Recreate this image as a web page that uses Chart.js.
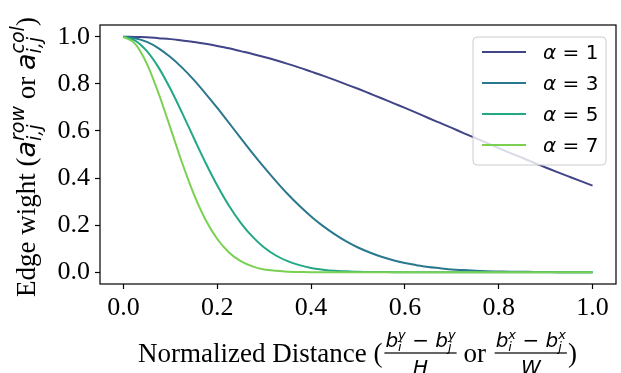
<!DOCTYPE html>
<html>
<head>
<meta charset="utf-8">
<script src="https://cdn.jsdelivr.net/npm/chart.js@4.4.0/dist/chart.umd.min.js"></script>
<style>
  html, body { margin: 0; padding: 0; background: #fff; }
  #wrap { width: 621px; height: 373px; }
</style>
</head>
<body>
<div id="wrap"><canvas id="chart" width="621" height="373"></canvas></div>
<script>
// ============================
// Data
// ============================

const distance = [0, 0.025, 0.05, 0.075, 0.1, 0.125, 0.15, 0.175, 0.2, 0.225, 0.25, 0.275, 0.3, 0.325, 0.35, 0.375, 0.4, 0.425, 0.45, 0.475, 0.5,
  0.525, 0.55, 0.575, 0.6, 0.625, 0.65, 0.675, 0.7, 0.725, 0.75, 0.775, 0.8, 0.825, 0.85, 0.875, 0.9, 0.925, 0.95, 0.975, 1.0];

const alpha1 = [1.000, 0.999, 0.998, 0.994, 0.990, 0.984, 0.978, 0.970, 0.961, 0.951, 0.939, 0.927, 0.914, 0.900, 0.885, 0.869, 0.852, 0.835, 0.817, 0.798, 0.779,
  0.759, 0.739, 0.718, 0.698, 0.677, 0.655, 0.634, 0.613, 0.591, 0.570, 0.549, 0.527, 0.506, 0.486, 0.465, 0.445, 0.425, 0.406, 0.387, 0.368];

const alpha3 = [1.000, 0.994, 0.978, 0.951, 0.914, 0.869, 0.817, 0.759, 0.698, 0.634, 0.570, 0.506, 0.445, 0.387, 0.332, 0.282, 0.237, 0.197, 0.162, 0.131, 0.105,
  0.084, 0.066, 0.051, 0.039, 0.030, 0.022, 0.017, 0.012, 0.009, 0.006, 0.004, 0.003, 0.002, 0.002, 0.001, 0.001, 0.000, 0.000, 0.000, 0.000];

const alpha5 = [1.000, 0.984, 0.939, 0.869, 0.779, 0.677, 0.570, 0.465, 0.368, 0.282, 0.210, 0.151, 0.105, 0.071, 0.047, 0.030, 0.018, 0.011, 0.006, 0.004, 0.002,
  0.001, 0.001, 0, 0, 0, 0, 0, 0, 0, 0, 0, 0, 0, 0, 0, 0, 0, 0, 0, 0];

const alpha7 = [1.000, 0.970, 0.885, 0.759, 0.613, 0.465, 0.332, 0.223, 0.141, 0.084, 0.047, 0.025, 0.012, 0.006, 0.002, 0.001, 0, 0, 0, 0, 0,
  0, 0, 0, 0, 0, 0, 0, 0, 0, 0, 0, 0, 0, 0, 0, 0, 0, 0, 0, 0];

const alphaValues = [1, 3, 5, 7];
const xTicks = [0, 0.2, 0.4, 0.6, 0.8, 1.0];
const yTicks = [0, 0.2, 0.4, 0.6, 0.8, 1.0];

// viridis-like colours
const colors = ['#414487', '#2a788e', '#22a884', '#7ad151'];

// ============================
// Helpers for math-ish text
// ============================

const SERIF = '"Liberation Serif", "Times New Roman", serif';
const SANS = '"DejaVu Sans", sans-serif';

function drawRuns(ctx, runs, x, y, measureOnly) {
  for (const r of runs) {
    ctx.font = r.font;
    if (r.sup !== undefined || r.sub !== undefined) {
      let w = 0;
      if (r.sup) {
        if (!measureOnly) ctx.fillText(r.sup, x, y - r.up);
        w = ctx.measureText(r.sup).width;
      }
      if (r.sub) {
        if (!measureOnly) ctx.fillText(r.sub, x, y + r.down);
        w = Math.max(w, ctx.measureText(r.sub).width);
      }
      x += w + (r.after || 0);
    } else {
      if (!measureOnly) ctx.fillText(r.text, x, y);
      x += ctx.measureText(r.text).width;
    }
  }
  return x;
}

function drawFraction(ctx, num, den, x, barY) {
  const wn = drawRuns(ctx, num, 0, 0, true);
  const wd = drawRuns(ctx, den, 0, 0, true);
  const w = Math.max(wn, wd) + 2;
  drawRuns(ctx, num, x + (w - wn) / 2, barY - 6);
  drawRuns(ctx, den, x + (w - wd) / 2, barY + 21);
  ctx.fillRect(x, barY - 0.6, w, 1.2);
  return x + w;
}

// ============================
// Custom drawing plugin
// ============================

const decorations = {
  id: 'decorations',
  afterDraw(chart) {
    const ctx = chart.ctx;
    const a = chart.chartArea;
    ctx.save();
    ctx.fillStyle = '#000';
    ctx.strokeStyle = '#000';
    ctx.textBaseline = 'alphabetic';
    ctx.textAlign = 'left';

    // frame
    ctx.lineWidth = 1.2;
    ctx.strokeRect(a.left, a.top, a.right - a.left, a.bottom - a.top);

    // legend
    const lx = 473, ly = 37, lw = 133, lh = 128;
    ctx.beginPath();
    ctx.roundRect(lx, ly, lw, lh, 4);
    ctx.fillStyle = 'rgba(255,255,255,0.8)';
    ctx.fill();
    ctx.strokeStyle = '#cccccc';
    ctx.lineWidth = 1;
    ctx.stroke();
    alphaValues.forEach((v, i) => {
      const cy = 52 + i * 31;
      ctx.strokeStyle = colors[i];
      ctx.lineWidth = 2;
      ctx.beginPath();
      ctx.moveTo(482, cy);
      ctx.lineTo(526, cy);
      ctx.stroke();
      ctx.fillStyle = '#000';
      drawRuns(ctx, [
        { text: 'α', font: 'italic 20px ' + SANS },
        { text: ' = ' + v, font: '20px ' + SANS }
      ], 543, cy + 7);
    });

    // x title
    ctx.fillStyle = '#000';
    const it = 'italic 20px ' + SANS;
    const sc = 'italic 13px ' + SANS;
    const up = '20px ' + SANS;
    const big = '27px ' + SERIF;
    let x = drawRuns(ctx, [{ text: 'Normalized Distance (', font: big }], 138, 362);
    x = drawFraction(ctx,
      [{ text: 'b', font: it }, { sup: 'y', sub: 'i', font: sc, up: 8, down: 4 },
       { text: ' − ', font: up }, { text: 'b', font: it }, { sup: 'y', sub: 'j', font: sc, up: 8, down: 4 }],
      [{ text: 'H', font: it }], x + 2, 353);
    x = drawRuns(ctx, [{ text: ' or ', font: big }], x, 362);
    x = drawFraction(ctx,
      [{ text: 'b', font: it }, { sup: 'x', sub: 'i', font: sc, up: 8, down: 4 },
       { text: ' − ', font: up }, { text: 'b', font: it }, { sup: 'x', sub: 'j', font: sc, up: 8, down: 4 }],
      [{ text: 'W', font: it }], x + 2, 353);
    drawRuns(ctx, [{ text: ')', font: big }], x + 1, 362);

    // y title
    ctx.translate(35, 297);
    ctx.rotate(-Math.PI / 2);
    const ai = 'italic 27px ' + SANS;
    const as = 'italic 19px ' + SANS;
    drawRuns(ctx, [
      { text: 'Edge wight (', font: big },
      { text: 'a', font: ai },
      { sup: 'row', sub: 'i,j', font: as, up: 11, down: 6 },
      { text: ' or ', font: big },
      { text: 'a', font: ai },
      { sup: 'col', sub: 'i,j', font: as, up: 11, down: 6 },
      { text: ')', font: big }
    ], 0, 0);
    ctx.restore();
  }
};

// ============================
// Chart
// ============================

function series(values) {
  return distance.map((d, i) => ({ x: d, y: values[i] }));
}

const allSeries = [alpha1, alpha3, alpha5, alpha7];

const tickFont = { family: SERIF, size: 26 };

new Chart(document.getElementById('chart').getContext('2d'), {
  type: 'line',
  data: {
    datasets: allSeries.map((s, i) => ({
      label: 'α = ' + alphaValues[i],
      data: series(s),
      borderColor: colors[i],
      borderWidth: 2,
      pointRadius: 0,
      fill: false,
      cubicInterpolationMode: 'monotone',
      order: allSeries.length - 1 - i
    }))
  },
  options: {
    responsive: false,
    animation: false,
    layout: { padding: { top: 25, right: 5, left: 0, bottom: 0 } },
    plugins: { legend: { display: false }, tooltip: { enabled: false } },
    scales: {
      x: {
        type: 'linear',
        min: -0.05,
        max: 1.05,
        afterBuildTicks: s => { s.ticks = xTicks.map(v => ({ value: v })); },
        afterFit: s => { s.height = 89; },
        ticks: { font: tickFont, color: '#000', padding: 4, maxRotation: 0, callback: v => v.toFixed(1) },
        grid: { drawOnChartArea: false, drawTicks: true, tickLength: 5, tickWidth: 1.2, tickColor: '#000' },
        border: { display: false }
      },
      y: {
        min: -0.05,
        max: 1.05,
        afterBuildTicks: s => { s.ticks = yTicks.map(v => ({ value: v })); },
        afterFit: s => { s.width = 100; },
        ticks: { font: tickFont, color: '#000', padding: 5, callback: v => v.toFixed(1) },
        grid: { drawOnChartArea: false, drawTicks: true, tickLength: 5, tickWidth: 1.2, tickColor: '#000' },
        border: { display: false }
      }
    }
  },
  plugins: [decorations]
});
</script>
</body>
</html>
